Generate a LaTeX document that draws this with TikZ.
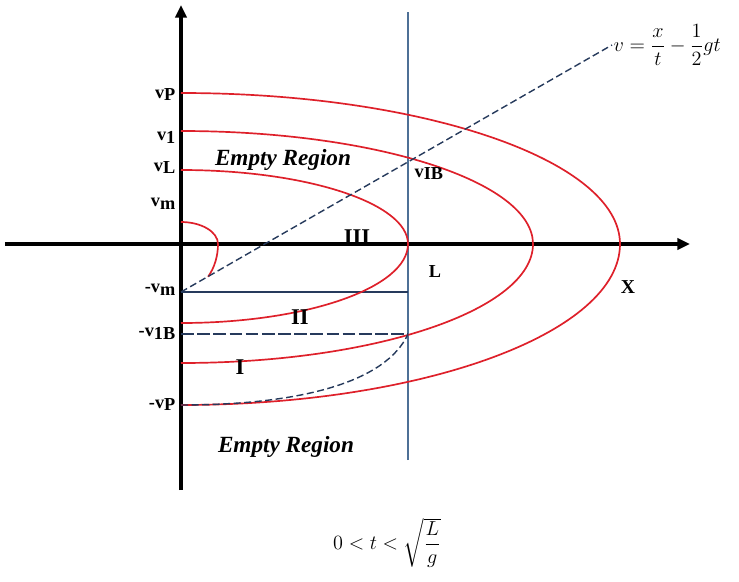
\documentclass[tikz,border=0pt]{standalone}
\usepackage{amsmath,amssymb}
\usepackage{fontspec}
\setmainfont{Liberation Serif}
\usepackage{xcolor}
\usepackage{tikz}
\usetikzlibrary{arrows.meta,calc}

\definecolor{curvered}{RGB}{222,32,42}
\definecolor{lineblue}{RGB}{38,58,92}
\definecolor{wallblue}{RGB}{78,112,150}

\newcommand{\lowsub}[1]{\raisebox{-0.35ex}{#1}}

\tikzset{
  vlabel/.style={font=\fontsize{13}{15}\selectfont\bfseries, anchor=east, inner sep=1pt},
  region/.style={font=\fontsize{16.5}{19}\selectfont\bfseries\itshape},
  zone/.style={font=\fontsize{16}{19}\selectfont\bfseries},
  orbit/.style={curvered, line width=1.2pt},
  axisline/.style={line width=2.2pt, -{Triangle[length=9pt,width=8pt]}},
  charline/.style={lineblue, line width=1pt, dash pattern=on 5pt off 2.5pt}
}

\begin{document}
\begin{tikzpicture}[x=0.025cm, y=0.025cm]
  \useasboundingbox (-181,-337) rectangle (558,244);

  % Reference points
  \coordinate (O) at (0,0);
  \coordinate (mneg) at (0,-48);
  \coordinate (bneg) at (0,-90);
  \coordinate (pneg) at (0,-161);
  \coordinate (Lm) at (227,-48);
  \coordinate (Lb) at (227,-90);
  \coordinate (Ltop) at (227,232);
  \coordinate (Lbot) at (227,-216);

  % Axes
  \draw[axisline] (-176,0) -- (509,0) coordinate (xend);
  \draw[axisline] (0,-246) -- (0,239) coordinate (yend);

  % Wall at x = L
  \draw[wallblue, line width=0.8pt] (Lbot) -- (Ltop);

  % Level lines
  \draw[lineblue, line width=1pt] (mneg) -- (Lm);
  \draw[lineblue, line width=1pt, dash pattern=on 9pt off 2.5pt] (bneg) -- (Lb);

  % Particle paths
  \draw[orbit] (0,151) arc[start angle=90, end angle=0, x radius=439, y radius=151]
               arc[start angle=0, end angle=-90, x radius=439, y radius=161];
  \draw[orbit] (0,113) arc[start angle=90, end angle=0, x radius=352, y radius=113]
               arc[start angle=0, end angle=-90, x radius=352, y radius=119];
  \draw[orbit] (0,74) arc[start angle=90, end angle=0, x radius=227, y radius=74]
               arc[start angle=0, end angle=-90, x radius=227, y radius=79];
  \draw[orbit] (0,22) arc[start angle=90, end angle=0, x radius=37, y radius=22]
               arc[start angle=0, end angle=-43, x radius=37, y radius=48];

  % Characteristics
  \node[font=\Large, anchor=west, inner sep=1pt] (eqn) at (431,199) {$v=\dfrac{x}{t}-\dfrac{1}{2}gt$};
  \draw[charline] (mneg) -- (eqn.west);
  \draw[charline] (pneg) .. controls (120,-161) and (205,-138) .. (Lb);

  % Velocity labels
  \foreach \y/\lab/\name in {149/{v\lowsub{P}}/vp, 107/{v\lowsub{1}}/vone,
      76/{v\lowsub{L}}/vl, 40/{v\lowsub{m}}/vm, -46/{-v\lowsub{m}}/mvm,
      -89/{-v\lowsub{1B}}/mvb, -161/{-v\lowsub{P}}/mvp} {
    \node[vlabel] (\name) at (-4,\y) {\lab};
  }
  \node[vlabel, anchor=west] (vib) at (232,70) {v\lowsub{IB}};

  % Regions
  \node[region] (empty1) at (102,84) {Empty Region};
  \node[region] (empty2) at (105,-203) {Empty Region};
  \node[zone] (r3) at (176,7) {III};
  \node[zone] (r2) at (119,-73) {II};
  \node[zone] (r1) at (59,-123) {I};
  \node[font=\fontsize{13}{15}\selectfont\bfseries] (lab) at (254,-28) {L};
  \node[font=\fontsize{14}{16}\selectfont\bfseries] (xlab) at (447,-43) {X};

  % Time range
  \node[font=\Large] (trange) at (206,-299) {$0<t<\sqrt{\dfrac{L}{g}}$};

\end{tikzpicture}
\end{document}
